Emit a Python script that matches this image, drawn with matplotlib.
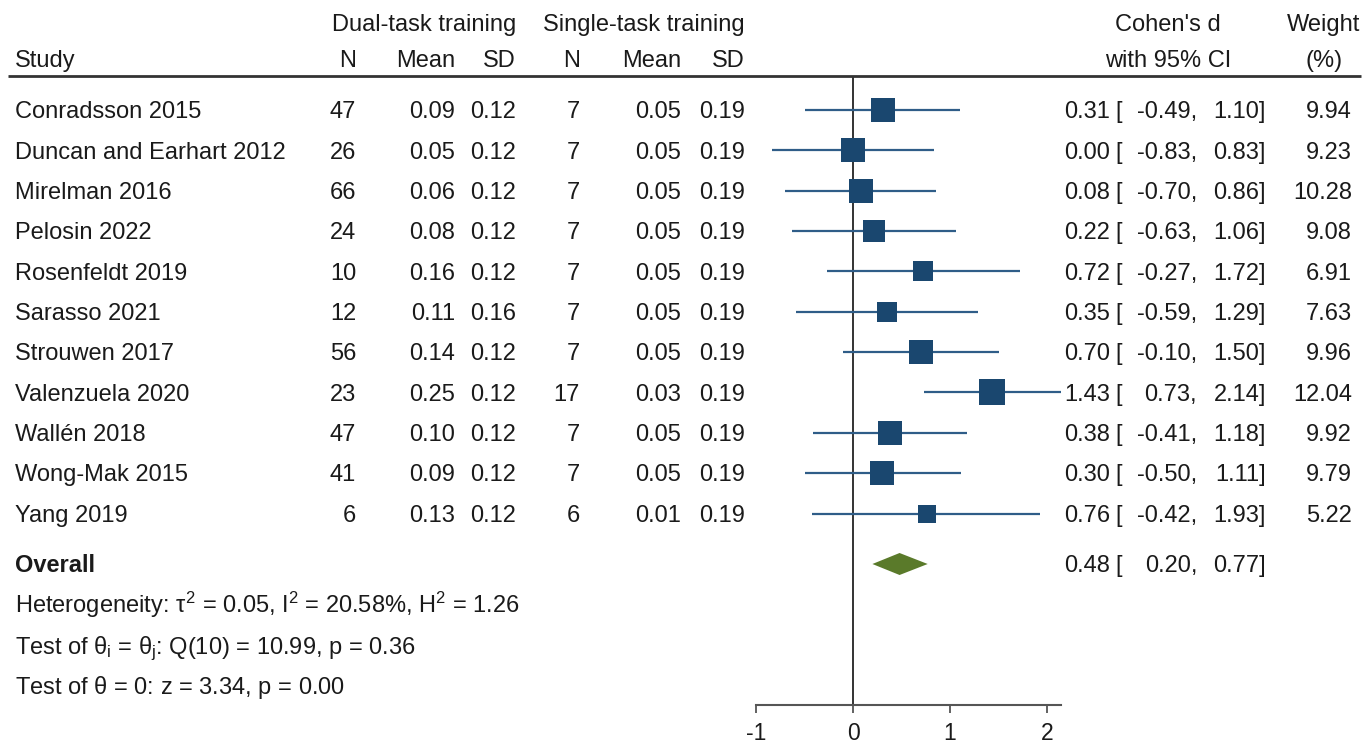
import matplotlib
matplotlib.use("Agg")
import matplotlib.pyplot as plt
import numpy as np

plt.rcParams["font.family"] = ["Liberation Sans", "DejaVu Sans"]
plt.rcParams["mathtext.fontset"] = "custom"
plt.rcParams["mathtext.rm"] = "Liberation Sans"
plt.rcParams["mathtext.it"] = "Liberation Sans"
plt.rcParams["mathtext.bf"] = "Liberation Sans:bold"

# ---- study-level data ----
studies = ["Conradsson 2015", "Duncan and Earhart 2012", "Mirelman 2016", "Pelosin 2022",
           "Rosenfeldt 2019", "Sarasso 2021", "Strouwen 2017", "Valenzuela 2020",
           "Wallén 2018", "Wong-Mak 2015", "Yang 2019"]
dual_n = [47, 26, 66, 24, 10, 12, 56, 23, 47, 41, 6]
dual_mean = [0.09, 0.05, 0.06, 0.08, 0.16, 0.11, 0.14, 0.25, 0.10, 0.09, 0.13]
dual_sd = [0.12, 0.12, 0.12, 0.12, 0.12, 0.16, 0.12, 0.12, 0.12, 0.12, 0.12]
single_n = [7, 7, 7, 7, 7, 7, 7, 17, 7, 7, 6]
single_mean = [0.05, 0.05, 0.05, 0.05, 0.05, 0.05, 0.05, 0.03, 0.05, 0.05, 0.01]
single_sd = [0.19] * 11
cohen_d = [0.31, 0.00, 0.08, 0.22, 0.72, 0.35, 0.70, 1.43, 0.38, 0.30, 0.76]
ci_low = [-0.49, -0.83, -0.70, -0.63, -0.27, -0.59, -0.10, 0.73, -0.41, -0.50, -0.42]
ci_high = [1.10, 0.83, 0.86, 1.06, 1.72, 1.29, 1.50, 2.14, 1.18, 1.11, 1.93]
weight = [9.94, 9.23, 10.28, 9.08, 6.91, 7.63, 9.96, 12.04, 9.92, 9.79, 5.22]

# ---- pooled estimate and statistics ----
overall_d, overall_low, overall_high = 0.48, 0.20, 0.77
tau2, i2, h2 = 0.05, 20.58, 1.26
q_df, q_stat, q_p = 10, 10.99, 0.36
z_stat, z_p = 3.34, 0.00

x_ticks = [-1, 0, 1, 2]

# ---- layout (pixels) ----
W, H = 1368, 742
X_ZERO, PX_PER_UNIT = 853, 97.0
ROW0, ROW_STEP = 110, 40.35
Y_OVERALL, FOOT_STEP = 564, 40.7
Y_RULE, Y_AXIS = 76, 705
FS = 17
TXT = "#1a1a1a"
NAVY = "#1a476f"
LINE = "#2f5d88"
GREEN = "#5a7a2a"

fig = plt.figure(figsize=(W / 100, H / 100), dpi=100)
fig.patch.set_facecolor("white")

# text layer in pixel coordinates
tx = fig.add_axes([0, 0, 1, 1])
tx.set_xlim(0, W)
tx.set_ylim(H, 0)
tx.axis("off")

# forest layer: x in effect-size units, y in pixel rows
fl, fr = 700, 1110
ax = fig.add_axes([fl / W, 0, (fr - fl) / W, 1])
ax.set_facecolor("none")
ax.set_xlim((fl - X_ZERO) / PX_PER_UNIT, (fr - X_ZERO) / PX_PER_UNIT)
ax.set_ylim(H, 0)
for s in ["top", "left", "right"]:
    ax.spines[s].set_visible(False)
ax.yaxis.set_visible(False)
ax.spines["bottom"].set_position(("data", Y_AXIS))
ax.spines["bottom"].set_bounds(x_ticks[0], max(ci_high))
ax.spines["bottom"].set_color("#555555")
ax.spines["bottom"].set_linewidth(1.5)
ax.set_xticks(x_ticks)
ax.set_xticklabels([str(t) for t in x_ticks])
ax.tick_params(axis="x", direction="out", length=6, width=1.3, color="#555555",
               labelsize=16.5, labelcolor=TXT, pad=6)

def baseline(yc):
    return yc + 8.3

def put(x, yb, s, ha="right", **kw):
    tx.text(x, yb, s, ha=ha, va="baseline", fontsize=FS, color=TXT, **kw)

# header
tx.plot([8, 1361], [Y_RULE, Y_RULE], color="#333333", lw=2.0, solid_capstyle="butt")
col_n1, col_m1, col_s1 = 356, 455, 516
col_n2, col_m2, col_s2 = 580, 681, 745
col_d, col_lo, col_hi, col_w = 1110, 1197, 1266, 1352
hy1, hy2 = baseline(23), baseline(59)
put(col_s1, hy1, "Dual-task training")
put(col_s2, hy1, "Single-task training")
put(15, hy2, "Study", ha="left")
for x, lab in [(col_n1, "N"), (col_m1, "Mean"), (col_s1, "SD"),
               (col_n2, "N"), (col_m2, "Mean"), (col_s2, "SD")]:
    put(x, hy2, lab)
put(1168, hy1, "Cohen's d", ha="center")
put(1168, hy2, "with 95% CI", ha="center")
put(1324, hy1, "Weight", ha="center")
put(1324, hy2, "(%)", ha="center")

# null line
ax.vlines(0, Y_RULE, Y_AXIS, color="#333333", lw=1.4, zorder=1)

# study rows
for i, name in enumerate(studies):
    yc = ROW0 + ROW_STEP * i
    yb = baseline(yc)
    put(15, yb, name, ha="left")
    put(col_n1, yb, f"{dual_n[i]}")
    put(col_m1, yb, f"{dual_mean[i]:.2f}")
    put(col_s1, yb, f"{dual_sd[i]:.2f}")
    put(col_n2, yb, f"{single_n[i]}")
    put(col_m2, yb, f"{single_mean[i]:.2f}")
    put(col_s2, yb, f"{single_sd[i]:.2f}")
    put(col_d, yb, f"{cohen_d[i]:.2f}")
    put(col_d + 5, yb, "[", ha="left")
    put(col_lo, yb, f"{ci_low[i]:.2f},")
    put(col_hi, yb, f"{ci_high[i]:.2f}]")
    put(col_w, yb, f"{weight[i]:.2f}")

    ax.plot([ci_low[i], ci_high[i]], [yc, yc], color=LINE, lw=1.6, zorder=2,
            solid_capstyle="butt")
    side_px = 7.6 * np.sqrt(weight[i])
    ax.plot([cohen_d[i]], [yc], marker="s", markersize=side_px * 0.72,
            color=NAVY, markeredgewidth=0, zorder=3)

# overall row
yb = baseline(Y_OVERALL)
put(15, yb, "Overall", ha="left", fontweight="bold")
put(col_d, yb, f"{overall_d:.2f}")
put(col_d + 5, yb, "[", ha="left")
put(col_lo, yb, f"{overall_low:.2f},")
put(col_hi, yb, f"{overall_high:.2f}]")
half_h = 11
ax.fill([overall_low, overall_d, overall_high, overall_d],
        [Y_OVERALL, Y_OVERALL - half_h, Y_OVERALL, Y_OVERALL + half_h],
        color=GREEN, lw=0, zorder=3)

# heterogeneity and tests
foot = [
    rf"Heterogeneity: $\tau^2$ = {tau2:.2f}, I$^2$ = {i2:.2f}%, H$^2$ = {h2:.2f}",
    rf"Test of $\theta_i$ = $\theta_j$: Q({q_df}) = {q_stat:.2f}, p = {q_p:.2f}",
    rf"Test of $\theta$ = 0: z = {z_stat:.2f}, p = {z_p:.2f}",
]
for k, s in enumerate(foot):
    put(15, baseline(Y_OVERALL + FOOT_STEP * (k + 1)), s, ha="left")

fig.savefig("out.png", dpi=100, facecolor="white")
